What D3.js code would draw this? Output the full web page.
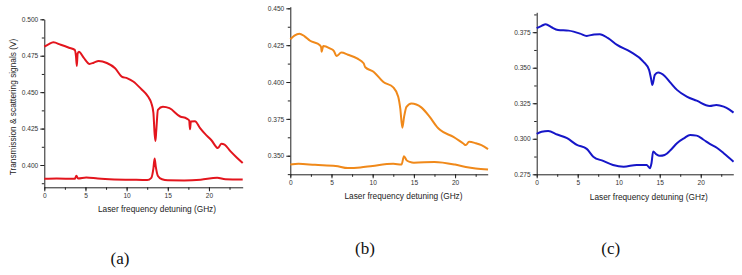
<!DOCTYPE html>
<html>
<head>
<meta charset="utf-8">
<script src="https://cdn.jsdelivr.net/npm/d3@7"></script>
<style>
	body { margin: 0; background: #fff; }
	svg { display: block; }
	.tick text { font-family: 'Liberation Sans', Arial, sans-serif; font-size: 6.6px; fill: #333; }
	.axis path, .axis line { stroke: #222; stroke-width: 1; }
	.xlabel, .ylabel { font-family: 'Liberation Sans', Arial, sans-serif; font-size: 8.3px; fill: #222; }
	.tag { font-family: 'Liberation Serif', 'DejaVu Serif', serif; font-size: 17px; fill: #111; }
</style>
</head>
<body>
<div id="chart"></div>
<script>
// x = laser detuning (GHz), y = signal (V)
const aTop = [[0, 0.4812], [0.5, 0.4828], [1.1, 0.4842], [2, 0.4825], [3, 0.4805], [3.7, 0.479], [3.85, 0.4745], [3.95, 0.468], [4.05, 0.4765], [4.2, 0.4778], [4.8, 0.4735], [5.5, 0.4694], [6, 0.4702], [6.6, 0.4714], [7.6, 0.4700], [8.6, 0.4664], [9.4, 0.4607], [10.1, 0.4595], [10.8, 0.4573], [11.8, 0.452], [12.6, 0.447], [13.0, 0.4425], [13.25, 0.436], [13.4, 0.4215], [13.5, 0.4165], [13.6, 0.4235], [13.8, 0.4379], [14.4, 0.4400], [15.2, 0.4390], [16.5, 0.4333], [17.3, 0.4319], [17.6, 0.4305], [17.7, 0.4245], [17.8, 0.4298], [18.3, 0.4300], [18.9, 0.4255], [19.5, 0.4215], [20.3, 0.4170], [21.1, 0.4116], [21.5, 0.4146], [21.9, 0.4140], [22.6, 0.4095], [23.4, 0.4050], [24.1, 0.4014]];
const aBottom = [[0, 0.3906], [1.5, 0.3908], [3.7, 0.3905], [3.9, 0.3926], [4.1, 0.3908], [5.1, 0.3915], [6.5, 0.3907], [8.5, 0.3901], [10.5, 0.3899], [12.5, 0.3897], [13.0, 0.3912], [13.25, 0.3975], [13.4, 0.4045], [13.55, 0.3985], [13.8, 0.3925], [14.3, 0.3902], [15, 0.3895], [17, 0.3894], [19, 0.3899], [21, 0.3912], [22, 0.3902], [24.1, 0.3900]];

const bTop = [[0, 0.4290], [0.5, 0.4315], [1.1, 0.4328], [1.7, 0.4312], [2.4, 0.4280], [3.6, 0.4250], [3.75, 0.4235], [3.8, 0.4205], [4.0, 0.4244], [4.8, 0.4228], [5.3, 0.4210], [5.6, 0.4176], [6.2, 0.4200], [7.0, 0.4185], [8.1, 0.4160], [8.9, 0.4127], [9.1, 0.4100], [10.1, 0.4070], [11.3, 0.4000], [12.5, 0.3964], [13.1, 0.3900], [13.35, 0.3820], [13.6, 0.3690], [13.8, 0.3760], [14.1, 0.3832], [14.7, 0.3855], [15.9, 0.3828], [16.9, 0.3765], [17.8, 0.3696], [18.2, 0.3674], [19.8, 0.3628], [21.0, 0.3583], [21.3, 0.3572], [21.7, 0.3594], [22.5, 0.3585], [23.2, 0.3572], [24, 0.3545]];
const bBottom = [[0, 0.3440], [1, 0.3445], [3, 0.3438], [5.5, 0.3431], [7, 0.3416], [8.5, 0.3420], [10, 0.3431], [12.5, 0.3445], [13.5, 0.3440], [13.8, 0.3497], [14.1, 0.3470], [14.5, 0.3458], [15, 0.3452], [17.5, 0.3458], [20, 0.3440], [21.3, 0.3424], [22.5, 0.3414], [24, 0.3407]];

const cTop = [[0, 0.3778], [0.6, 0.3795], [1.1, 0.3806], [1.8, 0.3785], [2.6, 0.3766], [3.9, 0.3761], [4.5, 0.3754], [5.3, 0.3740], [6.1, 0.3724], [7.0, 0.3734], [7.7, 0.3736], [8.7, 0.3708], [9.8, 0.3661], [11.4, 0.3613], [13.0, 0.3543], [13.7, 0.3485], [13.95, 0.3420], [14.1, 0.3379], [14.4, 0.3450], [14.8, 0.3466], [15.6, 0.3442], [16.3, 0.3395], [17.1, 0.3344], [18.3, 0.3297], [19.5, 0.3268], [21.1, 0.3231], [21.9, 0.3238], [22.8, 0.3226], [23.5, 0.3205], [24, 0.3184]];
const cBottom = [[0, 0.3034], [0.6, 0.3050], [1.4, 0.3055], [2.5, 0.3030], [3.7, 0.3004], [4.9, 0.2957], [6.1, 0.2929], [6.9, 0.2874], [8.1, 0.2844], [9.3, 0.2816], [10.6, 0.2804], [12.2, 0.2816], [13.4, 0.2816], [13.8, 0.2793], [14.0, 0.2830], [14.2, 0.2910], [14.6, 0.2890], [15.0, 0.2880], [15.6, 0.2886], [16.4, 0.2925], [17.1, 0.2969], [18.0, 0.3005], [18.7, 0.3027], [19.5, 0.3022], [20.3, 0.2995], [21.1, 0.2964], [22.0, 0.2935], [22.8, 0.2898], [24, 0.2839]];

const xTicks = [0, 5, 10, 15, 20];
const yTicksA = [0.400, 0.425, 0.450, 0.475, 0.500];
const yTicksB = [0.350, 0.375, 0.400, 0.425, 0.450];
const yTicksC = [0.275, 0.300, 0.325, 0.350, 0.375];

const xTitle = 'Laser frequency detuning (GHz)';
const yTitle = 'Transmission & scattering signals (V)';

const svg = d3.select('#chart').append('svg')
	.attr('width', 742)
	.attr('height', 275);

function drawPanel(p) {
	const g = svg.append('g');

	const x = d3.scaleLinear().domain(p.xDomain).range([p.left, p.right]);
	const y = d3.scaleLinear().domain(p.yDomain).range([p.bottom, p.top]);

	// minor ticks first, majors drawn over them
	const xMinor = d3.range(0, p.xDomain[1] + 0.01, 2.5);
	const yMinor = d3.range(p.yTicks[0] - 0.025, p.yDomain[1] + 0.0001, 0.0125)
		.filter((v) => v >= p.yDomain[0] - 1e-6);

	g.append('g')
		.attr('class', 'axis')
		.attr('transform', `translate(0,${p.bottom})`)
		.call(d3.axisBottom(x).tickValues(xMinor).tickSize(2.5).tickFormat(''))
		.call((s) => s.select('.domain').remove());
	g.append('g')
		.attr('class', 'axis')
		.attr('transform', `translate(${p.left},0)`)
		.call(d3.axisLeft(y).tickValues(yMinor).tickSize(2.5).tickFormat(''))
		.call((s) => s.select('.domain').remove());

	g.append('g')
		.attr('class', 'axis')
		.attr('transform', `translate(0,${p.bottom})`)
		.call(d3.axisBottom(x).tickValues(xTicks).tickSize(4).tickSizeOuter(0).tickPadding(2).tickFormat(d3.format('d')));
	g.append('g')
		.attr('class', 'axis')
		.attr('transform', `translate(${p.left},0)`)
		.call(d3.axisLeft(y).tickValues(p.yTicks).tickSize(4).tickSizeOuter(0).tickPadding(2).tickFormat(d3.format('.3f')));

	const line = d3.line()
		.x((d) => x(d[0]))
		.y((d) => y(d[1]))
		.curve(d3.curveMonotoneX);

	p.series.forEach((s) => {
		g.append('path')
			.datum(s)
			.attr('fill', 'none')
			.attr('stroke', p.color)
			.attr('stroke-width', 2)
			.attr('stroke-linejoin', 'round')
			.attr('d', line);
	});

	g.append('text')
		.attr('class', 'xlabel')
		.attr('x', p.xLabel[0])
		.attr('y', p.xLabel[1])
		.attr('text-anchor', 'middle')
		.text(xTitle);

	g.append('text')
		.attr('class', 'tag')
		.attr('x', p.tag[0])
		.attr('y', p.tag[1])
		.attr('text-anchor', 'middle')
		.text(p.tagText);
}

drawPanel({
	left: 44.3, right: 242.7, top: 19.3, bottom: 187.3,
	xDomain: [0, 24.1], yDomain: [0.3847, 0.500], yTicks: yTicksA,
	series: [aTop, aBottom], color: '#e3151d',
	xLabel: [157, 212], tag: [120, 264], tagText: '(a)',
});

drawPanel({
	left: 290.3, right: 487.7, top: 6.7, bottom: 174.3,
	xDomain: [0, 23.96], yDomain: [0.3374, 0.4511], yTicks: yTicksB,
	series: [bTop, bBottom], color: '#f0891a',
	xLabel: [403.5, 199], tag: [365, 254], tagText: '(b)',
});

drawPanel({
	left: 536.7, right: 733.3, top: 12.3, bottom: 174.3,
	xDomain: [0, 23.97], yDomain: [0.275, 0.389], yTicks: yTicksC,
	series: [cTop, cBottom], color: '#1616c8',
	xLabel: [648.8, 200], tag: [610.7, 254], tagText: '(c)',
});

svg.append('text')
	.attr('class', 'ylabel')
	.attr('transform', 'translate(16,107) rotate(-90)')
	.attr('text-anchor', 'middle')
	.text(yTitle);
</script>
</body>
</html>
